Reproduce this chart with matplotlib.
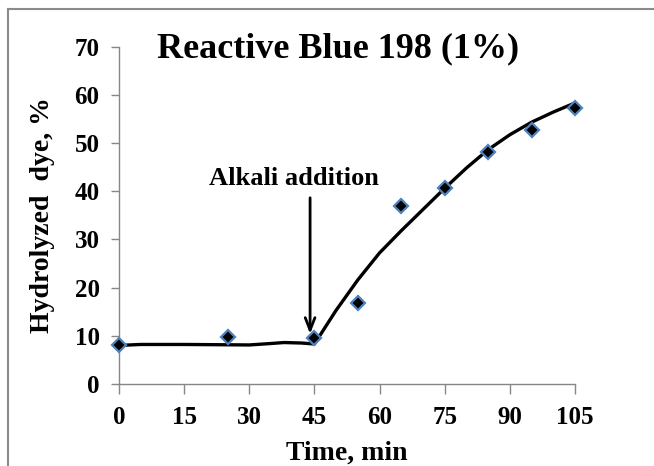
import matplotlib
matplotlib.use("Agg")
import matplotlib.pyplot as plt
from matplotlib.lines import Line2D

# measured points
time_pts = [0, 25, 45, 55, 65, 75, 85, 95, 105]
dye_pts = [8.0, 9.8, 9.6, 16.8, 37.0, 40.6, 48.1, 52.7, 57.2]

# hand-drawn trend curve
trend_t = [0, 5, 15, 30, 35, 38, 42, 45, 50, 55, 60, 65, 70, 75, 80, 85, 90, 95, 100, 105]
trend_y = [8.0, 8.2, 8.2, 8.1, 8.4, 8.6, 8.5, 8.3, 15.3, 21.6, 27.2, 31.8, 36.2, 40.6, 44.8,
           48.6, 51.7, 54.3, 56.4, 58.3]

xticks = [0, 15, 30, 45, 60, 75, 90, 105]
yticks = [0, 10, 20, 30, 40, 50, 60, 70]

FONT = "Liberation Serif"
W, H = 654, 466
fig = plt.figure(figsize=(W / 100, H / 100), dpi=100)
ax = fig.add_axes([119 / W, 1 - 384 / H, (575 - 119) / W, (384 - 46.5) / H])

ax.plot(trend_t, trend_y, color="black", lw=2.4, zorder=2, solid_capstyle="round")
ax.plot(time_pts, dye_pts, linestyle="none", marker="D", markersize=7.5,
        markerfacecolor="black", markeredgecolor="#4F81BD", markeredgewidth=1.6, zorder=3,
        clip_on=False)

ax.set_xlim(0, 105)
ax.set_ylim(0, 70)
ax.set_xticks(xticks)
ax.set_yticks(yticks)
ax.set_xticklabels([str(v) for v in xticks], fontfamily=FONT, fontweight="bold", fontsize=18)
ax.set_yticklabels([str(v) for v in yticks], fontfamily=FONT, fontweight="bold", fontsize=18)

for s in ["top", "right"]:
    ax.spines[s].set_visible(False)
for s in ["left", "bottom"]:
    ax.spines[s].set_color("#868686")
    ax.spines[s].set_linewidth(1.0)
ax.tick_params(axis="y", direction="out", length=6, width=1, color="#868686", pad=8)
ax.tick_params(axis="x", direction="out", length=7, width=1, color="#868686", pad=9)

ax.set_xlabel("Time, min", fontfamily=FONT, fontweight="bold", fontsize=20, labelpad=8)
ax.set_ylabel("Hydrolyzed  dye, %", fontfamily=FONT, fontweight="bold", fontsize=20, labelpad=14)

ax.annotate("", xy=(44.0, 9.8), xytext=(44.0, 39.2),
            arrowprops=dict(arrowstyle="->,head_length=0.9,head_width=0.35", color="black", lw=2.0))
ax.text(40.2, 42.6, "Alkali addition", fontfamily=FONT, fontweight="bold", fontsize=19,
        ha="center", va="center")

fig.text(338 / W, 1 - 49 / H, "Reactive Blue 198 (1%)", fontfamily=FONT, fontweight="bold",
         fontsize=26, ha="center", va="center")

# outer frame (left and top only)
fig.add_artist(Line2D([8 / W, 8 / W], [0, 1 - 9 / H], transform=fig.transFigure, color="#8a8a8a", lw=1.5))
fig.add_artist(Line2D([8 / W, 1], [1 - 9 / H, 1 - 9 / H], transform=fig.transFigure, color="#8a8a8a", lw=1.5))

fig.savefig("out.png", dpi=100)
